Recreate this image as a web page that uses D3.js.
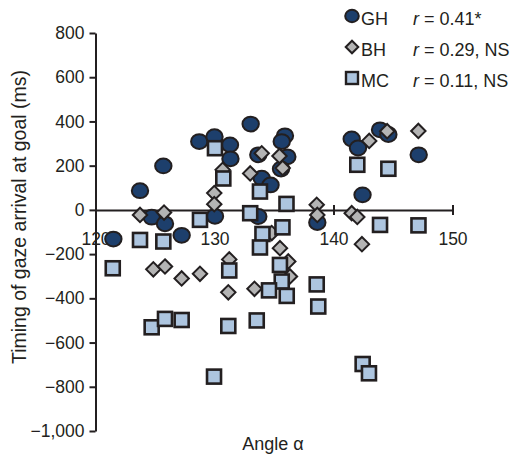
<!DOCTYPE html>
<html>
<head>
<meta charset="utf-8">
<script src="https://cdn.jsdelivr.net/npm/d3@7"></script>
<style>
  html, body { margin: 0; padding: 0; background: #fff; }
  svg { display: block; }
  text { font-family: "Liberation Sans", Arial, Helvetica, sans-serif; fill: #231f20; }
</style>
</head>
<body>
<svg id="chart" width="514" height="458"></svg>
<script>
// ---- data ----
const xTicks = [120, 130, 140, 150];
const yTicks = [-1000, -800, -600, -400, -200, 0, 200, 400, 600, 800];

const ghAngle  = [121.5, 123.74, 124.72, 125.7, 125.84, 127.24, 128.72, 130.0, 130.04, 131.3, 131.34, 133.04, 133.68, 133.68, 133.97, 134.71, 135.92, 135.65, 136.12, 135.59, 138.64, 141.53, 142.06, 143.91, 144.61, 147.16, 142.44];
const ghTiming = [-132, 87, -33, 199, -63, -115, 309, 331, -29, 294, 231, 388, -30, 249, 143, 113, 335, 309, 240, 185, -57, 321, 280, 362, 341, 249, 68];

const bhAngle  = [123.74, 125.76, 124.86, 125.84, 127.24, 128.78, 129.98, 129.98, 130.69, 131.24, 131.16, 133.0, 133.97, 135.46, 135.73, 134.81, 135.5, 136.2, 136.34, 133.36, 138.59, 138.64, 143.0, 144.51, 147.13, 141.53, 142.0, 142.39];
const bhTiming = [-23, -12, -269, -256, -310, -289, 76, 26, 181, -224, -373, 165, 256, 244, 189, -105, -173, -233, -301, -357, 23, -23, 312, 356, 357, -15, -32, -155];

const mcAngle  = [121.45, 123.74, 125.7, 128.78, 130.04, 130.74, 131.24, 133.0, 133.82, 136.05, 134.03, 135.71, 133.82, 135.5, 135.65, 134.58, 136.07, 138.59, 138.72, 142.0, 144.61, 143.91, 147.14, 142.45, 142.98, 124.72, 125.84, 127.24, 131.16, 133.55, 129.96];
const mcTiming = [-264, -136, -143, -45, 279, 142, -274, -15, 83, 27, -109, -79, -170, -249, -324, -364, -389, -337, -437, 204, 186, -68, -70, -697, -739, -531, -493, -498, -525, -500, -754];

const legendNames = ["GH", "BH", "MC"];
const legendStats = ["0.41*", "0.29, NS", "0.11, NS"];

const xTitle = "Angle \u03b1";
const yTitle = "Timing of gaze arrival at goal (ms)";

// ---- styles ----
const ghFill = "#1d3f6c", bhFill = "#b4b4b4", mcFill = "#adc5df", edge = "#231f20";

const svg = d3.select("#chart");
const x = d3.scaleLinear().domain([120, 150]).range([95.5, 452.5]);
const y = d3.scaleLinear().domain([-1000, 800]).range([431, 33]);

// y axis
const gy = svg.append("g").attr("transform", `translate(${x(120)},0)`)
  .call(d3.axisLeft(y).tickValues(yTicks).tickSize(6).tickSizeOuter(0).tickPadding(5).tickFormat(d3.format(",")));
gy.selectAll("text").style("font-size", "17.5px").attr("fill", "#231f20");

// x axis at y=0
const gx = svg.append("g").attr("transform", `translate(0,${y(0)})`)
  .call(d3.axisBottom(x).tickValues(xTicks).tickSize(5).tickSizeOuter(0).tickPadding(18).tickFormat(d3.format("d")));
gx.selectAll(".tick line").attr("y1", -5).attr("y2", 5);
gx.selectAll("text").style("font-size", "17.5px").attr("fill", "#231f20");

svg.selectAll(".domain, .tick line").attr("stroke", edge).attr("stroke-width", 2);

// titles
svg.append("text").attr("transform", `translate(26,217) rotate(-90)`)
  .attr("text-anchor", "middle").style("font-size", "19.5px").text(yTitle);
svg.append("text").attr("x", 273).attr("y", 450)
  .attr("text-anchor", "middle").style("font-size", "18px").text(xTitle);

// markers
const diamond = s => `M0,${-s}L${s},0L0,${s}L${-s},0Z`;

svg.append("g").selectAll("ellipse").data(ghAngle.map((a, i) => [a, ghTiming[i]])).join("ellipse")
  .attr("cx", d => x(d[0])).attr("cy", d => y(d[1])).attr("rx", 8.2).attr("ry", 7.4)
  .attr("fill", ghFill).attr("stroke", edge).attr("stroke-width", 2);

svg.append("g").selectAll("path").data(bhAngle.map((a, i) => [a, bhTiming[i]])).join("path")
  .attr("transform", d => `translate(${x(d[0])},${y(d[1])})`).attr("d", diamond(7.2))
  .attr("fill", bhFill).attr("stroke", edge).attr("stroke-width", 2);

svg.append("g").selectAll("rect").data(mcAngle.map((a, i) => [a, mcTiming[i]])).join("rect")
  .attr("x", d => x(d[0]) - 7).attr("y", d => y(d[1]) - 7).attr("width", 14).attr("height", 14)
  .attr("fill", mcFill).attr("stroke", edge).attr("stroke-width", 2.6);

// legend
const lg = svg.append("g");
const rowY = [16, 47, 78];
lg.append("ellipse").attr("cx", 352).attr("cy", rowY[0]).attr("rx", 6.8).attr("ry", 6.2)
  .attr("fill", ghFill).attr("stroke", edge).attr("stroke-width", 2);
lg.append("path").attr("transform", `translate(352,${rowY[1]})`).attr("d", diamond(6.3))
  .attr("fill", bhFill).attr("stroke", edge).attr("stroke-width", 2);
lg.append("rect").attr("x", 346).attr("y", rowY[2] - 6).attr("width", 12).attr("height", 12)
  .attr("fill", mcFill).attr("stroke", edge).attr("stroke-width", 2.4);
legendNames.forEach((n, i) => {
  lg.append("text").attr("x", 361).attr("y", rowY[i] + 9).style("font-size", "18px").text(n);
  const t = lg.append("text").attr("x", 413).attr("y", rowY[i] + 9).style("font-size", "18px");
  t.append("tspan").style("font-style", "italic").text("r");
  t.append("tspan").text(" = " + legendStats[i]);
});
</script>
</body>
</html>
